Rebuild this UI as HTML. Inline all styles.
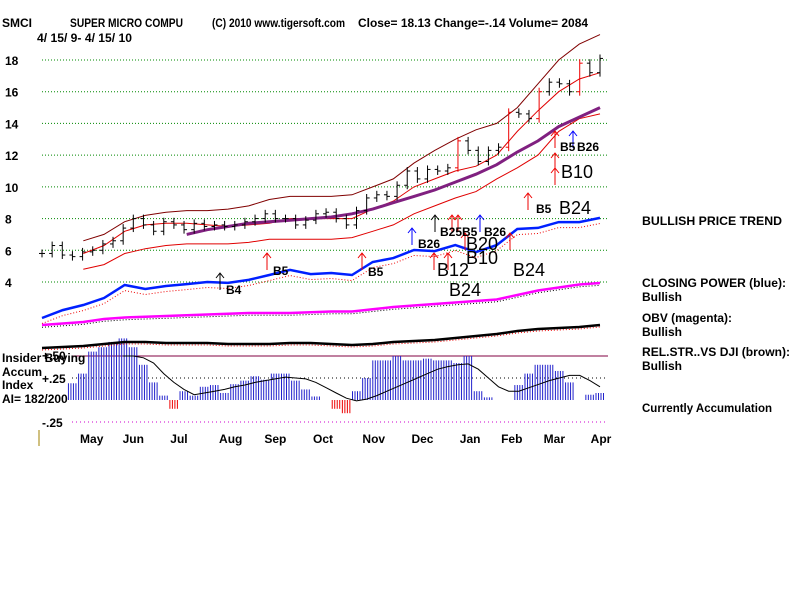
<!DOCTYPE html>
<html><head><meta charset="utf-8"><style>
body{margin:0;background:#fff;width:800px;height:600px;overflow:hidden}
svg{display:block}
text{font-family:"Liberation Sans",sans-serif;font-weight:bold;font-size:12px;fill:#000}
</style></head><body>
<svg id="c" width="800" height="600" xmlns="http://www.w3.org/2000/svg">
<g>
<text x="2" y="27">SMCI</text>
<text x="70" y="27" textLength="113" lengthAdjust="spacingAndGlyphs">SUPER MICRO COMPU</text>
<text x="212" y="27" textLength="133" lengthAdjust="spacingAndGlyphs">(C) 2010 www.tigersoft.com</text>
<text x="358" y="27" textLength="230" lengthAdjust="spacingAndGlyphs">Close=  18.13  Change=-.14 Volume= 2084</text>
<text x="37" y="42" textLength="95" lengthAdjust="spacingAndGlyphs">4/ 15/ 9-  4/ 15/ 10</text>
</g>
<g id="grid"></g>
<g id="ylab"></g>
<g id="plot"></g>
<g font-size="11">
<text x="642" y="225" textLength="140" lengthAdjust="spacingAndGlyphs">BULLISH PRICE TREND</text>
<text x="642" y="287" textLength="144" lengthAdjust="spacingAndGlyphs">CLOSING POWER (blue):</text>
<text x="642" y="301">Bullish</text>
<text x="642" y="322" textLength="90" lengthAdjust="spacingAndGlyphs">OBV (magenta):</text>
<text x="642" y="336">Bullish</text>
<text x="642" y="356" textLength="148" lengthAdjust="spacingAndGlyphs">REL.STR..VS DJI (brown):</text>
<text x="642" y="370">Bullish</text>
<text x="642" y="412" textLength="130" lengthAdjust="spacingAndGlyphs">Currently Accumulation</text>
</g>
<g>
<text x="2" y="362">Insider Buying</text>
<text x="2" y="376">Accum</text>
<text x="2" y="389">Index</text>
<text x="2" y="403">AI= 182/200</text>
<text x="42" y="383">+.25</text>
<text x="42" y="360">+.50</text>
<text x="42" y="427">-.25</text>
<line x1="39" y1="430" x2="39" y2="446" stroke="#a08000" stroke-width="1"/>
</g>
<g font-size="12">
<text x="226" y="294">B4</text><text x="273" y="275">B5</text><text x="368" y="276">B5</text>
<text x="418" y="248">B26</text><text x="440" y="236">B25B5</text><text x="484" y="236">B26</text>
<text x="536" y="213">B5</text><text x="560" y="151">B5</text><text x="577" y="151">B26</text>
<text x="437" y="276" style="font-weight:normal;font-size:18px">B12</text>
<text x="466" y="250" style="font-weight:normal;font-size:18px">B20</text>
<text x="466" y="264" style="font-weight:normal;font-size:18px">B10</text>
<text x="449" y="296" style="font-weight:normal;font-size:18px">B24</text>
<text x="513" y="276" style="font-weight:normal;font-size:18px">B24</text>
<text x="559" y="214" style="font-weight:normal;font-size:18px">B24</text>
<text x="561" y="178" style="font-weight:normal;font-size:18px">B10</text>
</g>
</svg>
<script>
const closes=[5.8,6.3,5.7,5.6,5.9,6.0,6.4,6.6,7.4,8.0,7.6,7.2,7.8,7.6,7.3,7.7,7.5,7.6,7.5,7.6,7.8,8.0,8.3,8.0,8.0,7.6,7.9,8.3,8.4,8.0,7.6,8.5,9.3,9.5,9.4,10.1,11.0,10.5,11.1,11.0,11.2,12.9,12.3,11.6,12.3,12.5,14.7,14.6,14.3,16.0,16.6,16.5,16.0,17.8,17.2,18.1];
const upperBand=[null,null,6.6,7.0,7.8,8.2,8.4,8.5,8.5,8.6,8.8,9.2,9.4,9.4,9.4,9.5,10.0,10.5,11.5,12.3,13.0,13.6,14.0,15.0,16.5,18.0,19.0,19.6];
const midBand=[null,null,5.8,6.3,7.2,7.6,7.7,7.7,7.6,7.5,7.6,7.7,8.0,8.0,8.0,8.0,8.6,9.1,10.0,10.5,11.0,11.3,12.0,13.5,14.8,16.0,16.8,17.2];
const lowerBand=[null,null,4.8,5.1,5.8,6.1,6.3,6.4,6.4,6.4,6.5,6.7,6.7,6.7,6.7,6.8,7.2,7.6,8.3,8.8,9.3,9.7,10.5,11.2,12.0,13.5,14.3,14.6];
const ma50=[null,null,null,null,null,null,null,7.0,7.3,7.5,7.7,7.8,7.9,8.0,8.1,8.3,8.6,9.0,9.4,9.8,10.3,10.8,11.4,12.2,12.9,13.8,14.4,15.0];
const closingPower=[1.73,2.23,2.55,2.99,3.81,3.56,3.75,3.87,4.0,3.94,4.13,4.44,4.76,4.5,4.57,4.44,5.26,5.51,6.02,5.95,6.33,5.89,6.33,7.34,7.41,7.78,7.78,8.04];
const obv=[2,3,4,6,7,7.5,8,8.5,9,9.5,10,10,10,10.5,11,11,12.5,14,15,16,17,18,19,22,25,27,29,30];
const relStr=[10,11,12,14,16,16,15,15,15,14,14,14,15,15,14,13,14,16,17,18,20,22,24,27,29,30,31,33];
const aiValues=[null,null,null,.19,.3,.55,.6,.66,.7,.6,.4,.2,.05,-.1,.1,.05,.15,.17,.08,.18,.22,.27,.23,.3,.3,.22,.12,.04,0,-.1,-.15,.1,.25,.45,.45,.5,.45,.45,.47,.45,.45,.42,.5,.1,.03,0,0,.17,.3,.4,.4,.33,.2,0,.06,.08];
const aiAvg=[null,null,null,null,null,null,null,null,.5,.5,.48,.42,.3,.2,.12,.06,.08,.1,.12,.15,.17,.2,.22,.24,.26,.25,.24,.2,.14,.08,.02,-.01,.01,.05,.1,.15,.2,.25,.3,.35,.38,.4,.41,.35,.25,.15,.1,.1,.14,.18,.22,.25,.28,.28,.22,.15];
const priceTicks=[18,16,14,12,10,8,6,4];
const months=["May","Jun","Jul","Aug","Sep","Oct","Nov","Dec","Jan","Feb","Mar","Apr"];
const monthIdx=[4.9,9.0,13.5,18.6,23.0,27.7,32.7,37.5,42.2,46.3,50.5,55.1];

const NS="http://www.w3.org/2000/svg";
const X0=42,X1=600;
const xw=i=>X0+i*(X1-X0)/55;
const xb=j=>X0+j*(X1-X0)/27;
const yP=v=>60+(18-v)*15.857;
const yObv=v=>328-v*1.5;
const yRs=v=>358-v*1.0;
const yAi=v=>400-v*88;
function mk(t,a,p){const e=document.createElementNS(NS,t);for(const k in a)e.setAttribute(k,a[k]);(p||document.getElementById('plot')).appendChild(e);return e;}
function poly(arr,xf,yf,stroke,w,name,dash){let pts=[];arr.forEach((v,i)=>{if(v!==null)pts.push(xf(i).toFixed(1)+','+yf(v).toFixed(1));});
 const e=mk('polyline',{points:pts.join(' '),fill:'none',stroke:stroke,'stroke-width':w});if(dash)e.setAttribute('stroke-dasharray',dash);
 
 return e;}

const grid=document.getElementById('grid'),yl=document.getElementById('ylab');
priceTicks.forEach(t=>{const l=mk('line',{x1:42,x2:608,y1:yP(t),y2:yP(t),stroke:'#080','stroke-width':1,'stroke-dasharray':'1,2'},grid);
 
 
 const tx=mk('text',{x:5,y:yP(t)+5},yl);tx.textContent=t;
 
 });
[[.5,'#800040'],[.25,'#000'],[-.25,'#c0c']].forEach(([v,c])=>{const l=mk('line',{x1:72,x2:608,y1:yAi(v),y2:yAi(v),stroke:c,'stroke-width':1,'stroke-dasharray':v==.5?'':'1,3'},grid);
 
 });
aiValues.forEach((v,i)=>{if(v===null)return;for(let k=0;k<4;k++){const x=xw(i)+k*2.5-4;const b=mk('line',{x1:x,x2:x,y1:yAi(0),y2:yAi(v),stroke:v<0?'#e00':'#22c','stroke-width':1});
 
 }});
poly(aiAvg,xw,yAi,'#000',1,'ai-moving-average');
poly(upperBand,xb,yP,'#800000',1,'upper-band');
poly(midBand,xb,yP,'#e00000',1,'mid-band');
poly(lowerBand,xb,yP,'#e00000',1,'lower-band');
poly(ma50,xb,yP,'#802080',3,'moving-average');
closes.forEach((c,i)=>{const p=i?closes[i-1]:c;const hi=Math.max(p,c)+0.25,lo=Math.min(p,c)-0.25;const col=(c-p)>1.2?'#e00':'#000';
 const g=mk('g',{});
 
 mk('line',{x1:xw(i),x2:xw(i),y1:yP(hi),y2:yP(lo),stroke:col,'stroke-width':1},g);
 mk('line',{x1:xw(i)-3,x2:xw(i),y1:yP(p),y2:yP(p),stroke:col,'stroke-width':1},g);
 mk('line',{x1:xw(i),x2:xw(i)+3,y1:yP(c),y2:yP(c),stroke:col,'stroke-width':1},g);});
poly(closingPower.map(v=>v-0.35),xb,yP,'#e00',1,'closing-power-ma','1,2');
poly(closingPower,xb,yP,'#0020ff',2.5,'closing-power-line');
poly(obv.map(v=>v-1.5),xb,yObv,'#000',1,'obv-ma','1,2');
poly(obv,xb,yObv,'#f0f',2.5,'obv-line');
poly(relStr.map(v=>v-2),xb,yRs,'#e00',1,'rel-str-ma','1,2');
poly(relStr,xb,yRs,'#000',2.5,'rel-str-line');
[[220,290,'#000'],[267,270,'#e00'],[362,270,'#e00'],[412,245,'#00f'],[435,232,'#000'],[452,232,'#e00'],[458,232,'#e00'],[480,232,'#00f'],[434,270,'#e00'],[448,270,'#e00'],[465,250,'#e00'],[510,250,'#e00'],[528,210,'#e00'],[555,148,'#e00'],[573,148,'#00f'],[555,185,'#e00'],[555,170,'#e00']].forEach(([x,y,c])=>{const g=mk('g',{stroke:c,'stroke-width':1,fill:'none'});
 
 
 mk('line',{x1:x,x2:x,y1:y,y2:y-17},g);mk('polyline',{points:`${x-4},${y-12} ${x},${y-17} ${x+4},${y-12}`},g);});
months.forEach((m,i)=>{const t=mk('text',{x:xw(monthIdx[i]),y:443,'text-anchor':'middle'});t.textContent=m;
 
 });
</script>
</body></html>
